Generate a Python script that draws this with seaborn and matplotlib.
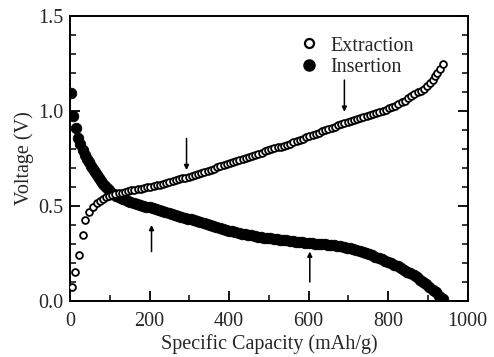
import numpy as np
import pandas as pd
import seaborn as sns
import matplotlib
matplotlib.use('Agg')
import matplotlib.pyplot as plt
from matplotlib.lines import Line2D

# Extraction (open circles): specific capacity (mAh/g) and voltage (V)
ext_cap = [5, 13, 23, 33, 38, 49, 59, 67, 75, 82, 90, 98, 106, 114, 122, 130,
           138, 146, 154, 162, 170, 178, 186, 194, 202, 210, 218, 226, 234,
           242, 250, 258, 266, 274, 282, 290, 298, 306, 314, 322, 330, 338,
           346, 354, 362, 370, 378, 386, 394, 402, 410, 418, 426, 434, 442,
           450, 458, 466, 474, 482, 490, 498, 506, 514, 522, 530, 538, 546,
           554, 562, 570, 578, 586, 594, 602, 610, 618, 626, 634, 642, 650,
           658, 666, 674, 682, 690, 698, 706, 714, 722, 730, 738, 746, 754,
           762, 770, 778, 786, 794, 802, 810, 818, 826, 834, 842, 850, 858,
           866, 874, 882, 890, 898, 906, 913, 919, 924, 930, 937]
ext_volt = [0.075, 0.15, 0.24, 0.345, 0.425, 0.47, 0.495, 0.515, 0.528, 0.537,
            0.545, 0.551, 0.556, 0.561, 0.566, 0.570, 0.574, 0.578, 0.582,
            0.586, 0.589, 0.592, 0.595, 0.598, 0.601, 0.604, 0.608, 0.612,
            0.616, 0.621, 0.626, 0.631, 0.636, 0.641, 0.645, 0.650, 0.655,
            0.660, 0.665, 0.670, 0.676, 0.681, 0.686, 0.692, 0.697, 0.703,
            0.708, 0.714, 0.719, 0.725, 0.730, 0.735, 0.741, 0.747, 0.752,
            0.757, 0.763, 0.768, 0.775, 0.781, 0.787, 0.793, 0.798, 0.803,
            0.808, 0.813, 0.818, 0.823, 0.829, 0.835, 0.842, 0.848, 0.855,
            0.861, 0.867, 0.873, 0.880, 0.886, 0.893, 0.899, 0.905, 0.912,
            0.918, 0.924, 0.930, 0.935, 0.941, 0.946, 0.951, 0.957, 0.962,
            0.967, 0.972, 0.977, 0.983, 0.988, 0.994, 1.000, 1.007, 1.014,
            1.021, 1.028, 1.036, 1.045, 1.055, 1.068, 1.080, 1.090, 1.099,
            1.108, 1.118, 1.130, 1.145, 1.163, 1.182, 1.200, 1.220, 1.248]

# Insertion (filled circles)
ins_cap = [2, 8, 15, 20, 26, 33, 38, 43, 48, 53, 58, 63, 68, 73, 78, 83, 88,
           93, 98, 104, 110, 116, 122, 128, 134, 140, 146, 152, 160, 168, 176,
           184, 192, 200, 208, 216, 224, 232, 240, 248, 256, 264, 272, 280,
           288, 296, 304, 312, 320, 328, 336, 344, 352, 360, 368, 376, 384,
           392, 400, 408, 416, 424, 432, 440, 448, 456, 464, 472, 480, 488,
           496, 504, 512, 520, 528, 536, 544, 552, 560, 568, 576, 584, 592,
           600, 608, 616, 624, 632, 640, 648, 656, 664, 672, 680, 688, 696,
           704, 712, 720, 728, 736, 744, 752, 760, 768, 776, 784, 792, 800,
           808, 816, 824, 832, 840, 848, 856, 864, 872, 880, 888, 896, 904,
           912, 920, 928, 934, 938]
ins_volt = [1.095, 0.975, 0.91, 0.86, 0.825, 0.795, 0.770, 0.750, 0.730,
            0.712, 0.695, 0.680, 0.665, 0.648, 0.632, 0.618, 0.605, 0.593,
            0.582, 0.571, 0.562, 0.555, 0.548, 0.542, 0.537, 0.532, 0.527,
            0.522, 0.516, 0.511, 0.506, 0.502, 0.497, 0.493, 0.488, 0.484,
            0.479, 0.474, 0.469, 0.464, 0.459, 0.454, 0.449, 0.444, 0.439,
            0.434, 0.430, 0.425, 0.420, 0.415, 0.410, 0.405, 0.400, 0.394,
            0.389, 0.384, 0.380, 0.375, 0.370, 0.366, 0.362, 0.358, 0.355,
            0.351, 0.348, 0.345, 0.342, 0.339, 0.336, 0.333, 0.331, 0.329,
            0.327, 0.325, 0.323, 0.321, 0.319, 0.317, 0.315, 0.313, 0.311,
            0.309, 0.307, 0.305, 0.304, 0.302, 0.301, 0.299, 0.298, 0.297,
            0.295, 0.293, 0.291, 0.288, 0.285, 0.281, 0.277, 0.273, 0.269,
            0.264, 0.259, 0.253, 0.247, 0.240, 0.233, 0.226, 0.219, 0.212,
            0.205, 0.198, 0.190, 0.182, 0.173, 0.164, 0.155, 0.145, 0.135,
            0.124, 0.112, 0.100, 0.087, 0.074, 0.060, 0.045, 0.028, 0.015,
            0.008]

# arrows: (capacity, tail voltage, head voltage)
arrow_cap = [293, 690, 205, 603]
arrow_tail = [0.856, 1.163, 0.26, 0.10]
arrow_head = [0.689, 0.996, 0.40, 0.26]

sns.set_style('ticks')
plt.rcParams['font.family'] = ['Liberation Serif', 'DejaVu Serif']

df_ext = pd.DataFrame({'cap': ext_cap, 'volt': ext_volt})
df_ins = pd.DataFrame({'cap': ins_cap, 'volt': ins_volt})

fig = plt.figure(figsize=(4.94, 3.57), dpi=100)
ax = fig.add_axes([0.1417, 0.157, 0.805, 0.798])

sns.scatterplot(data=df_ins, x='cap', y='volt', ax=ax, marker='o', s=58,
                color='black', edgecolor='black', linewidth=0.6,
                zorder=3, legend=False)
sns.scatterplot(data=df_ext, x='cap', y='volt', ax=ax, marker='o', s=24,
                facecolor='white', edgecolor='black', linewidth=1.3,
                zorder=4, legend=False)

for c, t, h in zip(arrow_cap, arrow_tail, arrow_head):
    ax.annotate('', xy=(c, h), xytext=(c, t),
                arrowprops=dict(arrowstyle='-|>', color='black', lw=1.1,
                                mutation_scale=7, shrinkA=0, shrinkB=0))

ax.set_xlim(0, 1000)
ax.set_ylim(0, 1.5)
ax.set_xticks([0, 200, 400, 600, 800, 1000])
ax.set_xticks(np.arange(100, 1000, 200), minor=True)
ax.set_yticks([0.0, 0.5, 1.0, 1.5])
ax.set_yticks(np.arange(0.1, 1.5, 0.1), minor=True)
ax.set_yticklabels(['0.0', '0.5', '1.0', '1.5'])
ax.tick_params(which='major', direction='in', length=7, width=1.3,
               labelsize=14.5, right=True, color='black')
ax.tick_params(which='minor', direction='in', length=4, width=1.1,
               right=True, color='black')
ax.tick_params(axis='x', which='major', pad=8)
ax.tick_params(axis='y', which='major', pad=5)
for sp in ax.spines.values():
    sp.set_linewidth(1.4)
    sp.set_color('black')

ax.set_xlabel('Specific Capacity (mAh/g)', fontsize=14.5, labelpad=2)
ax.set_ylabel('Voltage (V)', fontsize=14.5, labelpad=3)

leg_handles = [
    Line2D([], [], ls='none', marker='o', markersize=6.5, mfc='white',
           mec='black', mew=1.6),
    Line2D([], [], ls='none', marker='o', markersize=8, mfc='black',
           mec='black'),
]
ax.legend(leg_handles, ['Extraction', 'Insertion'], loc='upper left',
          bbox_to_anchor=(0.53, 0.985), frameon=False, fontsize=14.5,
          handletextpad=0.45, labelspacing=0.1, borderpad=0.3,
          handlelength=1.2)

fig.savefig('out.png', dpi=100)
plt.close()
